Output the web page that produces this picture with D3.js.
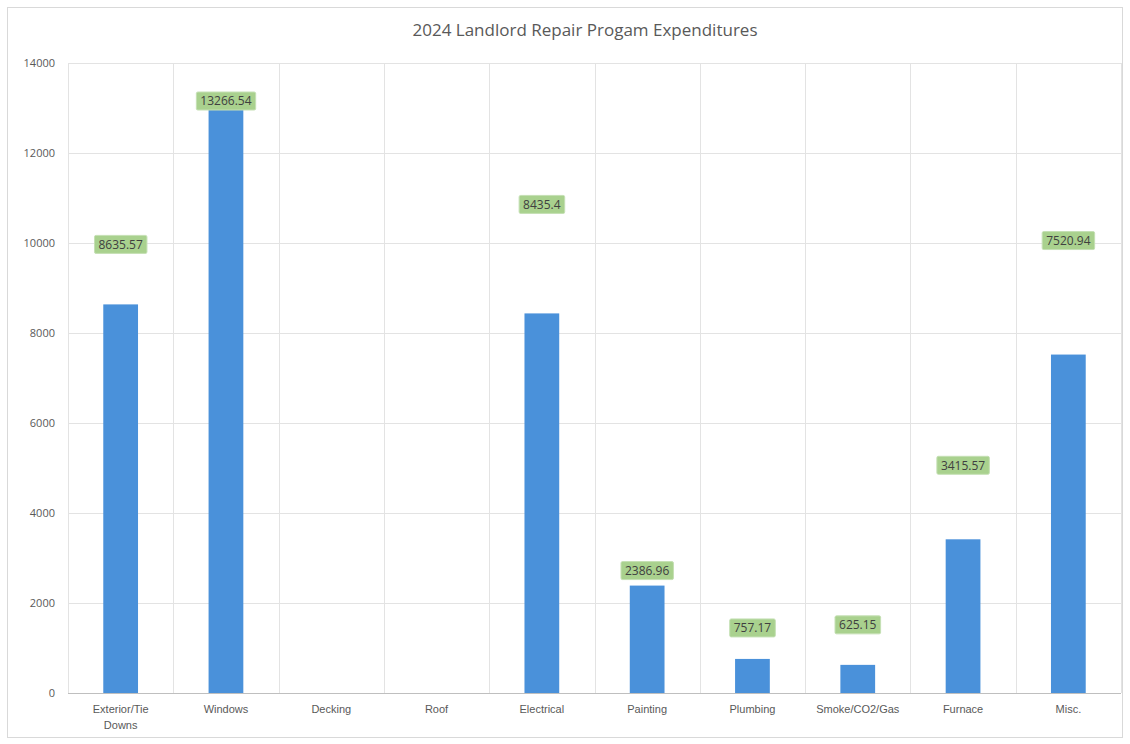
<!DOCTYPE html>
<html>
<head>
<meta charset="utf-8">
<script src="https://cdn.jsdelivr.net/npm/d3@7"></script>
<style>
  html, body { margin: 0; padding: 0; background: #fff; }
  svg { display: block; font-family: "Open Sans", "Noto Sans", sans-serif; }
</style>
</head>
<body>
<svg id="chart" width="1130" height="744"></svg>
<script>
// Repair categories and dollars spent in 2024
const categories = ["Exterior/Tie Downs", "Windows", "Decking", "Roof", "Electrical",
                    "Painting", "Plumbing", "Smoke/CO2/Gas", "Furnace", "Misc."];
const expenditures = [8635.57, 13266.54, 0, 0, 8435.4, 2386.96, 757.17, 625.15, 3415.57, 7520.94];
const yTicks = [0, 2000, 4000, 6000, 8000, 10000, 12000, 14000];
const chartTitle = "2024 Landlord Repair Progam Expenditures";

// How far (px) each callout sits above its bar
const calloutLift = [60, -5, 0, 0, 109, 15, 31, 40, 74, 114];

const W = 1130, H = 744;
const margin = { left: 68, right: 9, top: 63, bottom: 51 };
const svg = d3.select("#chart");

// Chart frame
svg.append("rect")
  .attr("x", 7.5).attr("y", 7.5)
  .attr("width", W - 15).attr("height", H - 14)
  .attr("fill", "#fff").attr("stroke", "#d9d9d9");

const x = d3.scaleBand()
  .domain(categories)
  .range([margin.left, W - margin.right])
  .paddingInner(0).paddingOuter(0);

const y = d3.scaleLinear()
  .domain([0, 14000])
  .range([H - margin.bottom, margin.top]);

// Horizontal gridlines
svg.append("g")
  .selectAll("line")
  .data(yTicks)
  .join("line")
  .attr("x1", margin.left).attr("x2", W - margin.right)
  .attr("y1", d => Math.round(y(d)) + 0.5).attr("y2", d => Math.round(y(d)) + 0.5)
  .attr("stroke", d => d === 0 ? "#bfbfbf" : "#e3e3e3")
  .attr("stroke-width", 1);

// Vertical gridlines at category boundaries
const bounds = categories.map(c => x(c)).concat([x(categories[categories.length - 1]) + x.bandwidth()]);
svg.append("g")
  .selectAll("line")
  .data(bounds)
  .join("line")
  .attr("x1", d => Math.round(d) + 0.5).attr("x2", d => Math.round(d) + 0.5)
  .attr("y1", y(14000)).attr("y2", y(0))
  .attr("stroke", "#e3e3e3");

// Y axis labels
const yAxis = d3.axisLeft(y).tickValues(yTicks).tickFormat(d3.format("d")).tickSize(0).tickPadding(13);
const gy = svg.append("g")
  .attr("transform", `translate(${margin.left},0)`)
  .call(yAxis);
gy.select(".domain").remove();
gy.selectAll("text")
  .attr("font-size", 11)
  .attr("fill", "#595959")
  .attr("font-family", "'Open Sans', sans-serif");

// X axis labels (wrapped on the slash-word boundary)
const xAxis = d3.axisBottom(x).tickSize(0).tickPadding(12);
const gx = svg.append("g")
  .attr("transform", `translate(0,${y(0)})`)
  .call(xAxis);
gx.select(".domain").remove();
gx.selectAll("text")
  .attr("font-size", 11)
  .attr("fill", "#595959")
  .each(function (d) {
    const t = d3.select(this);
    if (d === "Exterior/Tie Downs") {
      t.text(null);
      t.append("tspan").attr("x", 0).attr("dy", "0.71em").text("Exterior/Tie");
      t.append("tspan").attr("x", 0).attr("dy", "1.45em").text("Downs");
      t.attr("dy", null);
    }
  });

// Bars
const barW = x.bandwidth() * 0.33;
svg.append("g")
  .selectAll("rect")
  .data(categories.map((c, i) => ({ c, v: expenditures[i] })))
  .join("rect")
  .attr("x", d => x(d.c) + (x.bandwidth() - barW) / 2)
  .attr("y", d => y(d.v))
  .attr("width", barW)
  .attr("height", d => y(0) - y(d.v))
  .attr("fill", "#4a91da");

// Value callouts
const callouts = svg.append("g")
  .selectAll("g")
  .data(categories.map((c, i) => ({ c, v: expenditures[i], lift: calloutLift[i] })).filter(d => d.v > 0))
  .join("g")
  .attr("transform", d => `translate(${x(d.c) + x.bandwidth() / 2},${y(d.v) - d.lift})`);

callouts.append("text")
  .attr("text-anchor", "middle")
  .attr("dy", "0.35em")
  .attr("font-size", 12)
  .attr("fill", "#404040")
  .text(d => String(d.v));

callouts.each(function () {
  const g = d3.select(this);
  const bb = g.select("text").node().getBBox();
  g.insert("rect", "text")
    .attr("x", bb.x - 4).attr("y", -9)
    .attr("width", bb.width + 8).attr("height", 18)
    .attr("rx", 1.5)
    .attr("fill", "#a9d18e")
    .attr("stroke", "#c5e0b4");
});

// Title
svg.append("text")
  .attr("x", 585).attr("y", 30)
  .attr("text-anchor", "middle")
  .attr("dy", "0.35em")
  .attr("font-size", 17)
  .attr("fill", "#595959")
  .text(chartTitle);
</script>
</body>
</html>
